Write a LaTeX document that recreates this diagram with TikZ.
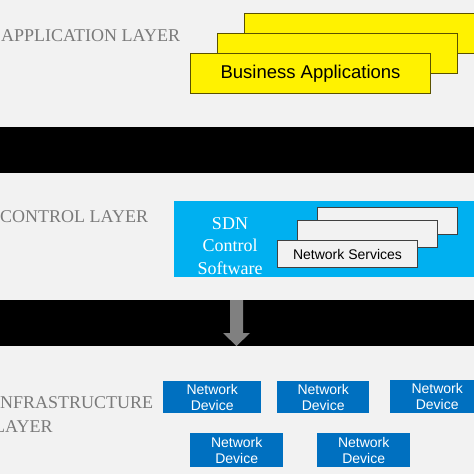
\documentclass[tikz,border=0pt]{standalone}
\usepackage{fontspec}
\setmainfont{Liberation Serif}
\newfontfamily\arialfont{Liberation Sans}
\definecolor{bgc}{HTML}{F2F2F2}
\definecolor{labelgray}{HTML}{7A7A7A}
\definecolor{yelborder}{HTML}{5A5200}
\definecolor{sdnblue}{HTML}{00B0F0}
\definecolor{devblue}{HTML}{0070C0}
\definecolor{svcborder}{HTML}{404040}
\definecolor{arrowgray}{HTML}{808080}
\tikzset{
  layerlabel/.style={anchor=base west, inner sep=0pt, text=labelgray, font=\fontsize{18}{22}\selectfont},
  bar/.style={fill=black, draw=none},
  appbox/.style={draw=yelborder, fill=yellow, line width=1pt, anchor=north west, inner sep=0pt, font=\arialfont\fontsize{18.5}{22}\selectfont},
  svcbox/.style={draw=svcborder, fill=bgc, line width=1pt, anchor=north west, inner sep=0pt, font=\arialfont\fontsize{14}{16}\selectfont},
  devbox/.style={fill=devblue, draw=none, anchor=north west, inner sep=0pt, text=white, align=center, font=\arialfont\fontsize{14}{16}\selectfont},
}
\begin{document}
\begin{tikzpicture}[x=1pt,y=-1pt]
\useasboundingbox (0,0) rectangle (474,474);
\clip (0,0) rectangle (474,474);
\fill[bgc] (0,0) rectangle (474,474);
% black bars
\fill[bar] (0,127) rectangle (474,173);
\fill[bar] (0,300) rectangle (474,346);
% application layer
\node[layerlabel] (applbl) at (1,41) {APPLICATION LAYER};
\node[appbox, minimum width=240pt, minimum height=40pt] (app3) at (244,13) {};
\node[appbox, minimum width=240pt, minimum height=40pt] (app2) at (217,33) {};
\node[appbox, minimum width=240pt, minimum height=40pt] (app1) at (190,53) {Business Applications};
% control layer
\node[layerlabel] (ctllbl) at (0,222) {CONTROL LAYER};
\node[fill=sdnblue, draw=none, anchor=north west, minimum width=300pt, minimum height=76pt, inner sep=0pt] (sdn) at (174,201) {};
\node[text=white, align=center, inner sep=0pt, font=\fontsize{18}{22.5}\selectfont] (sdntxt) at (230,246) {SDN\\Control\\Software};
\node[svcbox, minimum width=140pt, minimum height=27pt] (svc3) at (317,207) {};
\node[svcbox, minimum width=140pt, minimum height=27pt] (svc2) at (297,220) {};
\node[svcbox, minimum width=140pt, minimum height=27pt] (svc1) at (277,240) {Network Services};
% arrow
\coordinate (atip) at (236.5,346);
\fill[arrowgray] (230,300) -- (243,300) -- (243,333) -- (250,333) -- (atip) -- (223,333) -- (230,333) -- cycle;
% infrastructure layer
\node[layerlabel] (inflbl) at (-6,408) {INFRASTRUCTURE};
\node[layerlabel] (inflbl2) at (-6,432) {LAYER};
\node[devbox, minimum width=98pt, minimum height=32pt] (d1) at (163,381) {Network\\Device};
\node[devbox, minimum width=92pt, minimum height=32pt] (d2) at (277,381) {Network\\Device};
\node[devbox, minimum width=94pt, minimum height=33pt] (d3) at (390,380) {Network\\Device};
\node[devbox, minimum width=93pt, minimum height=34pt] (d4) at (190,433) {Network\\Device};
\node[devbox, minimum width=93pt, minimum height=34pt] (d5) at (317,433) {Network\\Device};
\end{tikzpicture}
\end{document}
